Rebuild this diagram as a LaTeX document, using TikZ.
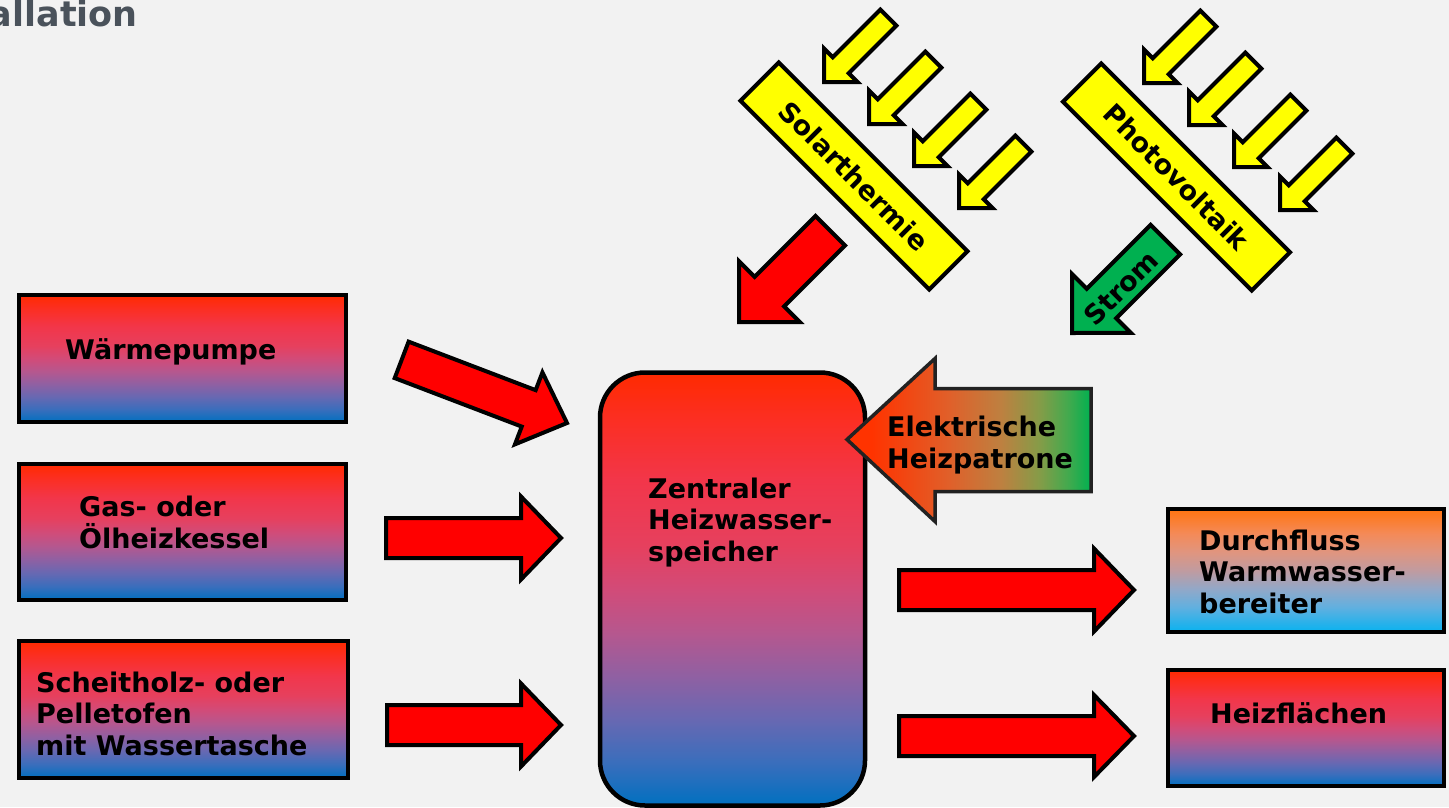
\documentclass[tikz,border=0pt]{standalone}
\usepackage{fontspec}
\setmainfont{DejaVu Sans}
\definecolor{bg}{HTML}{F2F2F2}
\definecolor{titlegray}{HTML}{4A525B}
\definecolor{arrowred}{HTML}{FF0000}
\definecolor{sunyellow}{HTML}{FFFF00}
\definecolor{powergreen}{HTML}{00B050}
\definecolor{darkline}{HTML}{222222}
% hot-to-cold stops (top to bottom)
\definecolor{tA}{HTML}{FF2A00}
\definecolor{tB}{HTML}{FC2E20}
\definecolor{tC}{HTML}{F2364A}
\definecolor{tD}{HTML}{E6405E}
\definecolor{tE}{HTML}{D24B78}
\definecolor{tF}{HTML}{B6578E}
\definecolor{tG}{HTML}{9060A2}
\definecolor{tH}{HTML}{6868B2}
\definecolor{tI}{HTML}{3A6EBC}
\definecolor{tJ}{HTML}{0070C0}
% hot-water stops (top to bottom)
\definecolor{wA}{HTML}{FF7410}
\definecolor{wB}{HTML}{F48A58}
\definecolor{wC}{HTML}{E0957F}
\definecolor{wD}{HTML}{C09BA0}
\definecolor{wE}{HTML}{92A8C8}
\definecolor{wF}{HTML}{60B0E0}
\definecolor{wG}{HTML}{08B2F0}
% electric element stops (left to right)
\definecolor{eA}{HTML}{FF3300}
\definecolor{eB}{HTML}{E0602A}
\definecolor{eC}{HTML}{BE8040}
\definecolor{eD}{HTML}{849C48}
\definecolor{eE}{HTML}{40AA4E}
\definecolor{eF}{HTML}{00B050}
\pgfdeclareverticalshading{tempgrad}{100bp}{color(0bp)=(tJ); color(25bp)=(tJ);
  color(30bp)=(tI); color(35bp)=(tH); color(40bp)=(tG); color(45bp)=(tF);
  color(50bp)=(tE); color(55bp)=(tD); color(62.5bp)=(tC); color(70bp)=(tB);
  color(75bp)=(tA); color(100bp)=(tA)}
\pgfdeclareverticalshading{watergrad}{100bp}{color(0bp)=(wG); color(25bp)=(wG);
  color(35bp)=(wF); color(42.5bp)=(wE); color(50bp)=(wD); color(57.5bp)=(wC);
  color(65bp)=(wB); color(75bp)=(wA); color(100bp)=(wA)}
\pgfdeclarehorizontalshading{elementgrad}{100bp}{color(0bp)=(eA); color(30bp)=(eA);
  color(46bp)=(eB); color(56.5bp)=(eC); color(64.5bp)=(eD); color(70.5bp)=(eE);
  color(75bp)=(eF); color(100bp)=(eF)}
\begin{document}
\begin{tikzpicture}[x=1pt,y=1pt,line join=miter,
  % block arrow, origin at the tip, pointing along +x:
  % #1 length, #2 shaft width, #3 head width, #4 head length
  pics/blockarrow/.style n args={4}{code={
    \path[pic actions] (0,0) -- (-#4,#3/2) -- (-#4,#2/2) -- (-#1,#2/2)
      -- (-#1,-#2/2) -- (-#4,-#2/2) -- (-#4,-#3/2) -- cycle;
  }},
  txt/.style={font=\bfseries\fontsize{27}{31.5}\selectfont, align=left,
    inner sep=0pt, anchor=base west},
  gradbox/.style={draw=black, line width=4.5pt, inner sep=0pt,
    shade, shading=tempgrad},
  panel/.style={draw=black, fill=sunyellow, line width=4pt, inner sep=0pt,
    minimum width=267pt, minimum height=54pt,
    font=\bfseries\fontsize{27}{31.5}\selectfont},
  redarrow/.style={draw=black, fill=arrowred, line width=4pt},
  sunarrow/.style={draw=black, fill=sunyellow, line width=4pt},
  greenarrow/.style={draw=black, fill=powergreen, line width=4pt},
]
\fill[bg] (0,0) rectangle (1449,-807);
\useasboundingbox (0,0) rectangle (1449,-807);

% heading
\node[font=\bfseries\fontsize{35}{40}\selectfont, text=titlegray,
  anchor=base east, inner sep=0pt] (title) at (138,-26) {allation};

% heat sources
\node[gradbox, minimum width=327pt, minimum height=127pt] (wp) at (182.5,-358.5) {};
\node[gradbox, minimum width=327pt, minimum height=136pt] (gas) at (182.5,-532) {};
\node[gradbox, minimum width=329pt, minimum height=137pt] (wood) at (183.5,-709.5) {};
\node[txt] (wptxt) at (65,-359) {Wärmepumpe};
\node[txt] (gastxt) at (79,-548) {Gas- oder\\Ölheizkessel};
\node[txt] (woodtxt) at (36,-755) {Scheitholz- oder\\Pelletofen\\mit Wassertasche};

% central storage tank
\node[gradbox, rounded corners=45pt, minimum width=265pt, minimum height=433pt]
  (tank) at (732.5,-589) {};
\node[txt] (tanktxt) at (648,-561) {Zentraler\\Heizwasser-\\speicher};

% consumers
\node[gradbox, shading=watergrad, minimum width=276pt, minimum height=123pt]
  (dhw) at (1306,-570.5) {};
\node[gradbox, minimum width=276pt, minimum height=116pt] (rad) at (1306,-728) {};
\node[txt] (dhwtxt) at (1199,-613) {Durchfluss\\Warmwasser-\\bereiter};
\node[txt] (radtxt) at (1210,-723) {Heizflächen};

% flows into and out of the tank
\pic[redarrow, rotate=-20.9] at (567,-423) {blockarrow={177}{39}{77}{41}};
\pic[redarrow] at (561,-538) {blockarrow={175}{40}{83}{40}};
\pic[redarrow] at (561,-725) {blockarrow={174}{40}{83}{40}};
\pic[redarrow] at (1134,-590) {blockarrow={235}{40}{83}{40}};
\pic[redarrow] at (1134,-736) {blockarrow={235}{40}{82}{40}};

% electric heating element
\coordinate (ehp) at (847,-439.5);
\path[draw=darkline, line width=3.5pt, shade, shading=elementgrad]
  (ehp) -- ++(88,81) -- ++(0,-30) -- ++(156,0) -- ++(0,-103) -- ++(-156,0)
  -- ++(0,-30) -- cycle;
\node[txt] (ehptxt) at (887,-468) {Elektrische\\Heizpatrone};

% solar thermal and photovoltaic panels
\node[panel, rotate=-45] (solar) at (854,-176) {Solarthermie};
\node[panel, rotate=-45] (pv) at (1176.5,-177) {Photovoltaik};

% incoming sunlight
\foreach \x/\y in {824/82, 869/124, 914/166, 959/208, 1144/83, 1189/125, 1234/167, 1280/210}
  \pic[sunarrow, rotate=225] at (\x,-\y) {blockarrow={91}{22.6}{47.4}{23.7}};

% panel outputs
\pic[redarrow, rotate=225] at (739,-322) {blockarrow={129}{41.7}{86}{43}};
\pic[greenarrow, rotate=225] at (1072,-333) {blockarrow={132}{41.7}{83}{41.7}};
\node[font=\bfseries\fontsize{27}{31.5}\selectfont, rotate=45, inner sep=0pt]
  (strom) at (1121,-288) {Strom};
\end{tikzpicture}
\end{document}
